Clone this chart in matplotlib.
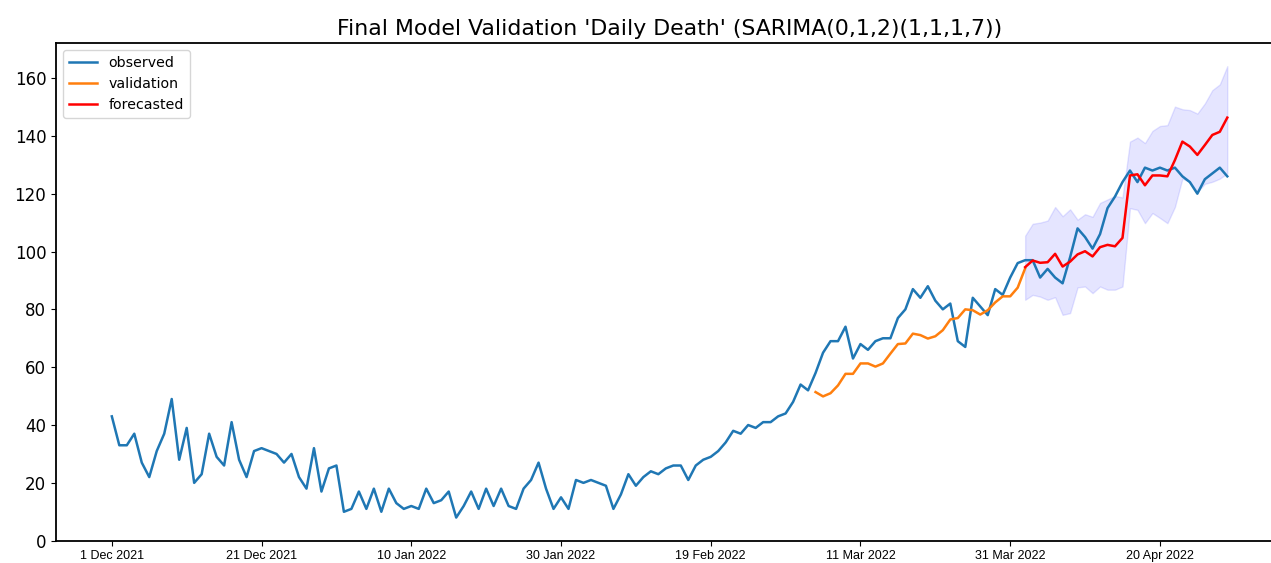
import numpy as np
import pandas as pd
import matplotlib
matplotlib.use('Agg')
import matplotlib.pyplot as plt
import matplotlib.dates as mdates

# daily deaths, 1 Dec 2021 onward
start_date = '2021-12-01'
observed = [43, 33, 33, 37, 27, 22, 31, 37, 49, 28, 39, 20, 23, 37, 29, 26, 41, 28, 22, 31,
            32, 31, 30, 27, 30, 22, 18, 32, 17, 25, 26,
            10, 11, 17, 11, 18, 10, 18, 13, 11, 12, 11, 18, 13, 14, 17, 8, 12, 17, 11, 18,
            12, 18, 12, 11, 18, 21, 27, 18, 11, 15, 11, 21,
            20, 21, 20, 19, 11, 16, 23, 19, 22, 24, 23, 25, 26, 26, 21, 26, 28, 29, 31, 34,
            38, 37, 40, 39, 41, 41,
            43, 44, 48, 54, 52, 58, 65, 69, 69, 74, 63, 68, 66, 69, 70, 70, 77, 80, 87, 84,
            88, 83, 80, 82, 69, 67, 84, 81, 78, 87, 85,
            91, 96, 97, 97, 91, 94, 91, 89, 98, 108, 105, 101, 106, 115, 119, 124, 128, 124,
            129, 128, 129, 128, 129, 126, 124, 120, 125, 127, 129, 126]

# validation starts at day 94, forecast at day 122
val_start = 94
fc_start = 122
validation = [51.4, 49.9, 51, 53.7, 57.7, 57.7, 61.3, 61.3, 60.2, 61.3, 64.7, 68, 68.2,
              71.6, 71.1, 69.9, 70.7, 72.8, 76.5, 77, 80, 79.7, 78.2, 79.7, 82.4, 84.5,
              84.5, 87.5, 94.2]
forecast = [94.6, 96.9, 96.1, 96.3, 99.2, 94.8, 96.5, 99, 100.1, 98.3, 101.5, 102.3, 101.8,
            104.7, 126.3, 126.7, 122.9, 126.3, 126.3, 126, 131.6, 138, 136.3, 133.4, 136.8,
            140.3, 141.4, 146.3]
upper = [105.5, 109.6, 110, 110.7, 115.4, 112.2, 114.6, 111, 112.9, 112, 116.8, 118, 119.2,
         118.7, 138, 139.4, 137.5, 141.7, 143.4, 143.7, 150.1, 149.2, 148.9, 147.7, 151.2,
         155.8, 157.8, 164.1]
lower = [83.3, 85, 84.4, 83.3, 84.2, 78.1, 78.7, 87.6, 87.9, 85.6, 87.9, 86.8, 86.8, 87.9,
         115, 114.4, 109.8, 113.3, 111.6, 109.8, 115.4, 125.2, 124.1, 120.6, 123.4, 124.1,
         125.2, 127]

dates = pd.date_range(start_date, periods=len(observed), freq='D')
val_dates = dates[val_start:val_start + len(validation)]
fc_dates = dates[fc_start:fc_start + len(forecast)]
tick_dates = pd.date_range(start_date, periods=8, freq='20D')

fig = plt.figure(figsize=(12.71, 5.63), dpi=100)
ax = fig.add_axes([0.0441, 0.0396, 0.9654, 0.8835])

ax.plot(dates, observed, color='C0', lw=1.8, label='observed')
ax.plot(val_dates, validation, color='C1', lw=1.8, label='validation')
ax.plot(fc_dates, forecast, color='red', lw=1.8, label='forecasted')
ax.fill_between(fc_dates, lower, upper, color='b', alpha=0.1)

ax.set_ylim(0, 172)
ax.set_yticks(np.arange(0, 161, 20))
ax.set_xticks(tick_dates)
ax.xaxis.set_major_formatter(mdates.DateFormatter('%-d %b %Y'))
ax.tick_params(axis='y', labelsize=12)
for lab in ax.get_xticklabels():
    lab.set_family(['Liberation Sans', 'DejaVu Sans'])
    lab.set_fontsize(9)
for s in ax.spines.values():
    s.set_linewidth(1.3)

ax.set_title("Final Model Validation 'Daily Death' (SARIMA(0,1,2)(1,1,1,7))", fontsize=15.8)
ax.legend(loc='upper left', fontsize=10.2)

fig.savefig('out.png', dpi=100)
